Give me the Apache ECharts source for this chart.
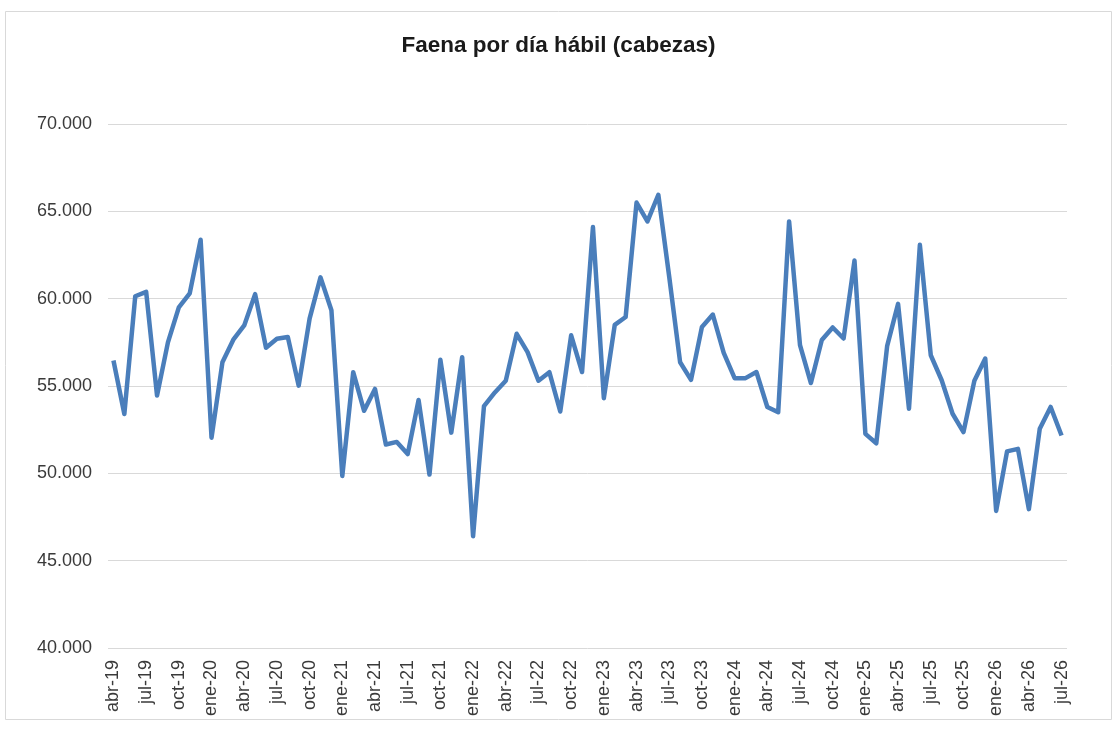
<!DOCTYPE html>
<html lang="es">
<head>
    <meta charset="UTF-8">
    <title>Faena por día hábil</title>
    <script src="https://cdn.jsdelivr.net/npm/echarts@6.0.0/dist/echarts.min.js"></script>
    <style>
        html, body { margin: 0; padding: 0; background: #fff; }
    </style>
</head>
<body>
<div id="container" style="width: 1117px; height: 733px"></div>

<script type="text/javascript">
    // meses abr-19 .. jul-26
    var meses = ['ene', 'feb', 'mar', 'abr', 'may', 'jun', 'jul', 'ago', 'sep', 'oct', 'nov', 'dic'];
    var categorias = [];
    for (var a = 19; a <= 26; a++) {
        for (var m = 0; m < 12; m++) {
            if (a === 19 && m < 3) continue;
            if (a === 26 && m > 6) continue;
            categorias.push(meses[m] + '-' + a);
        }
    }

    // cabezas por día hábil
    var faena = [
        56460, 53400, 60140, 60390, 54450, 57500, 59500, 60300, 63370,   // 2019
        52040, 56360, 57650, 58470, 60260, 57190, 57700, 57800, 55020, 58860, 61220, 59340, // 2020
        49850, 55790, 53580, 54830, 51650, 51800, 51100, 54200, 49930, 56500, 52330, 56650, // 2021
        46400, 53850, 54630, 55300, 57990, 56940, 55300, 55790, 53540, 57900, 55800, 64100, // 2022
        54300, 58500, 58950, 65500, 64420, 65950, 61250, 56360, 55350, 58380, 59090, 56900, // 2023
        55450, 55450, 55800, 53800, 53500, 64420, 57340, 55170, 57630, 58350, 57720, 62180, // 2024
        52260, 51720, 57300, 59700, 53700, 63080, 56760, 55330, 53410, 52360, 55300, 56570, // 2025
        47850, 51260, 51400, 47950, 52550, 53800, 52170  // 2026
    ];

    var yMin = 40000, yMax = 70000, yPaso = 5000;

    var dom = document.getElementById('container');
    var myChart = echarts.init(dom, null, { renderer: 'canvas' });

    function miles(v) {
        return String(v).replace(/\B(?=(\d{3})+(?!\d))/g, '.');
    }

    var option = {
        backgroundColor: '#ffffff',
        animation: false,
        title: {
            text: 'Faena por día hábil (cabezas)',
            left: 'center',
            top: 29,
            textStyle: {
                fontFamily: 'Liberation Sans',
                fontWeight: 'bold',
                fontSize: 22.5,
                color: '#1a1a1a'
            }
        },
        graphic: [{
            type: 'rect',
            shape: { x: 5.5, y: 11.5, width: 1106, height: 708 },
            style: { fill: 'none', stroke: '#d9d9d9', lineWidth: 1 },
            silent: true
        }],
        grid: {
            left: 108,
            right: 50,
            top: 124,
            bottom: 85
        },
        xAxis: {
            type: 'category',
            boundaryGap: true,
            data: categorias,
            axisLine: { show: false },
            axisTick: { show: false },
            axisLabel: {
                interval: 2,
                rotate: 90,
                margin: 12,
                fontFamily: 'Liberation Sans',
                fontSize: 18,
                color: '#3a3a3a'
            }
        },
        yAxis: {
            type: 'value',
            min: yMin,
            max: yMax,
            interval: yPaso,
            axisLine: { show: false },
            axisTick: { show: false },
            splitLine: { lineStyle: { color: '#d9d9d9', width: 1 } },
            axisLabel: {
                margin: 16,
                fontFamily: 'Liberation Sans',
                fontSize: 18,
                color: '#3a3a3a',
                formatter: function (v) { return miles(v); }
            }
        },
        series: [{
            name: 'Faena',
            type: 'line',
            data: faena,
            symbol: 'none',
            lineStyle: { color: '#4a7ebb', width: 4.5, join: 'round' }
        }]
    };

    myChart.setOption(option);
    window.addEventListener('resize', myChart.resize);
</script>
</body>
</html>
